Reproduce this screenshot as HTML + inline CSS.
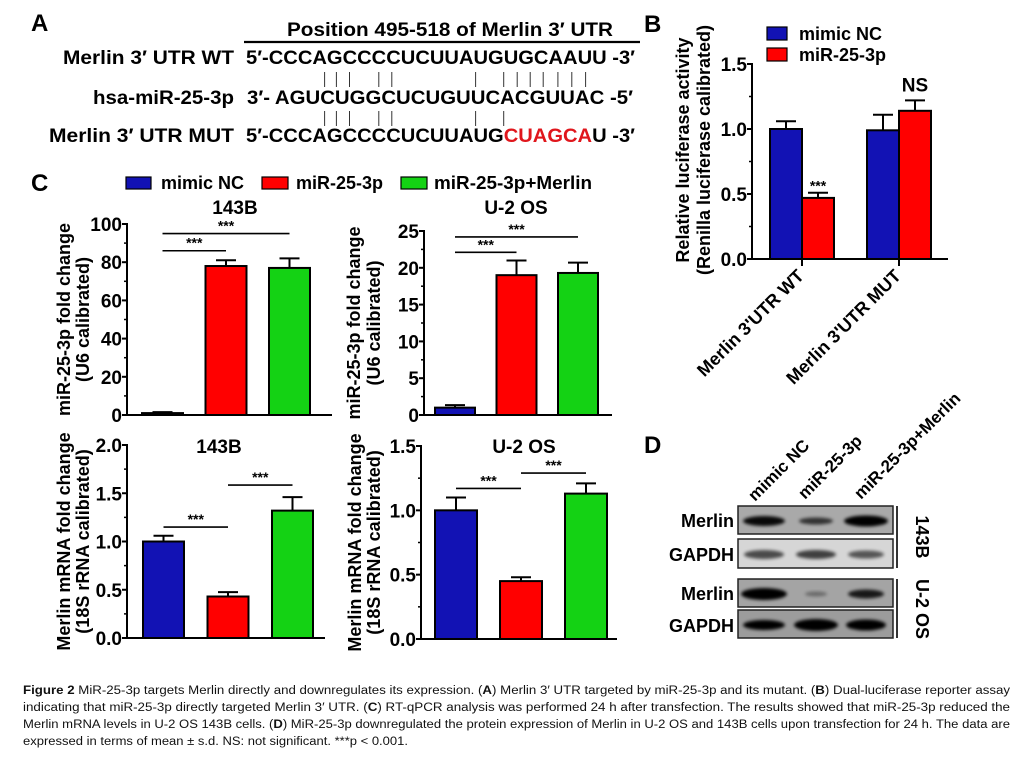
<!DOCTYPE html>
<html><head><meta charset="utf-8">
<style>
html,body{margin:0;padding:0;background:#fff;}
svg{display:block;font-family:"Liberation Sans",Arial,sans-serif;}
.b{font-weight:bold;}
</style></head>
<body>
<svg id="fig" width="1033" height="776" viewBox="0 0 1033 776" xmlns="http://www.w3.org/2000/svg">
<defs><filter id="blur" x="-20%" y="-50%" width="140%" height="200%"><feGaussianBlur stdDeviation="1.6"/></filter></defs>

<!-- Panel A -->
<g class="b" font-size="19">
  <text x="31" y="31" font-size="24">A</text>
  <text x="287" y="36" textLength="326" lengthAdjust="spacingAndGlyphs">Position 495-518 of Merlin 3′ UTR</text>
  <line x1="244" y1="42" x2="640" y2="42" stroke="#000" stroke-width="2.2"/>
  <text x="63" y="64" textLength="171" lengthAdjust="spacingAndGlyphs">Merlin 3′ UTR WT</text>
  <text x="246" y="64" textLength="389" lengthAdjust="spacingAndGlyphs">5′-CCCAGCCCCUCUUAUGUGCAAUU -3′</text>
  <text x="93" y="104" textLength="141" lengthAdjust="spacingAndGlyphs">hsa-miR-25-3p</text>
  <text x="247" y="104" textLength="386" lengthAdjust="spacingAndGlyphs">3′- AGUCUGGCUCUGUUCACGUUAC -5′</text>
  <text x="49" y="142" textLength="185" lengthAdjust="spacingAndGlyphs">Merlin 3′ UTR MUT</text>
  <text x="246" y="142" textLength="389" lengthAdjust="spacingAndGlyphs">5′-CCCAGCCCCUCUUAUG<tspan fill="#e0161c">CUAGCA</tspan>U -3′</text>
  <g id="pairs" stroke="#333" stroke-width="1"></g>
</g>

<!-- Panel B -->
<g id="panelB" class="b">
  <text x="644" y="32" font-size="24">B</text>
  <rect x="767" y="27" width="20" height="13" fill="#1212b4" stroke="#000" stroke-width="1.2"/>
  <text x="799" y="40" font-size="18">mimic NC</text>
  <rect x="767" y="48" width="20" height="13" fill="#ff0000" stroke="#000" stroke-width="1.2"/>
  <text x="799" y="61" font-size="18">miR-25-3p</text>
  <text transform="translate(689,150) rotate(-90)" text-anchor="middle" font-size="18">Relative luciferase activity</text>
  <text transform="translate(710,150) rotate(-90)" text-anchor="middle" font-size="18">(Renilla luciferase calibrated)</text>
</g>

<!-- Panel C -->
<g class="b">
  <text x="31" y="191" font-size="24">C</text>
  <rect x="126" y="177" width="25" height="12" fill="#1212b4" stroke="#000" stroke-width="1.2"/>
  <text x="161" y="189" font-size="18">mimic NC</text>
  <rect x="262" y="177" width="26" height="12" fill="#ff0000" stroke="#000" stroke-width="1.2"/>
  <text x="296" y="189" font-size="18">miR-25-3p</text>
  <rect x="401" y="177" width="26" height="12" fill="#14d214" stroke="#000" stroke-width="1.2"/>
  <text x="434" y="189" font-size="18" textLength="158" lengthAdjust="spacingAndGlyphs">miR-25-3p+Merlin</text>
</g>
<g id="charts"></g>

<!-- Panel D -->
<g id="panelD" class="b">
  <text x="644" y="453" font-size="24">D</text>
  <text transform="translate(755,502) rotate(-45)" font-size="17">mimic NC</text>
  <text transform="translate(805,500) rotate(-45)" font-size="17">miR-25-3p</text>
  <text transform="translate(861,500) rotate(-45)" font-size="17">miR-25-3p+Merlin</text>
  <text x="734" y="527" font-size="18" text-anchor="end">Merlin</text>
  <text x="734" y="561" font-size="18" text-anchor="end">GAPDH</text>
  <text x="734" y="600" font-size="18" text-anchor="end">Merlin</text>
  <text x="734" y="632" font-size="18" text-anchor="end">GAPDH</text>
  <line x1="897" y1="506" x2="897" y2="568" stroke="#000" stroke-width="1.6"/>
  <line x1="897" y1="579" x2="897" y2="638" stroke="#000" stroke-width="1.6"/>
  <text transform="translate(916,537) rotate(90)" text-anchor="middle" font-size="18">143B</text>
  <text transform="translate(916,609) rotate(90)" text-anchor="middle" font-size="18">U-2 OS</text>
  <g id="blots"></g>
</g>

<!-- Caption -->
<g font-size="11.5" fill="#111">
  <text x="23" y="694" textLength="987" lengthAdjust="spacingAndGlyphs"><tspan font-weight="bold">Figure 2</tspan> MiR-25-3p targets Merlin directly and downregulates its expression. (<tspan font-weight="bold">A</tspan>) Merlin 3′ UTR targeted by miR-25-3p and its mutant. (<tspan font-weight="bold">B</tspan>) Dual-luciferase reporter assay</text>
  <text x="23" y="711" textLength="987" lengthAdjust="spacingAndGlyphs">indicating that miR-25-3p directly targeted Merlin 3′ UTR. (<tspan font-weight="bold">C</tspan>) RT-qPCR analysis was performed 24 h after transfection. The results showed that miR-25-3p reduced the</text>
  <text x="23" y="728" textLength="987" lengthAdjust="spacingAndGlyphs">Merlin mRNA levels in U-2 OS 143B cells. (<tspan font-weight="bold">D</tspan>) MiR-25-3p downregulated the protein expression of Merlin in U-2 OS and 143B cells upon transfection for 24 h. The data are</text>
  <text x="23" y="745" textLength="385" lengthAdjust="spacingAndGlyphs">expressed in terms of mean ± s.d. NS: not significant. ***p &lt; 0.001.</text>
</g>
</svg>

<script>
// ===== Data =====
const cGroups = ['mimic NC', 'miR-25-3p', 'miR-25-3p+Merlin'];
const c1Values = [1, 78, 77];
const c1Err = [0.5, 3, 5];
const c1Ticks = [0, 20, 40, 60, 80, 100];
const c1Sig = [[0, 1, 86], [0, 2, 95]];
const c2Values = [1, 19, 19.3];
const c2Err = [0.35, 2, 1.4];
const c2Ticks = [0, 5, 10, 15, 20, 25];
const c2Sig = [[0, 1, 22.1], [0, 2, 24.2]];
const c3Values = [1.0, 0.43, 1.32];
const c3Err = [0.06, 0.045, 0.14];
const c3Ticks = [0, 0.5, 1.0, 1.5, 2.0];
const c3Sig = [[0, 1, 1.15], [1, 2, 1.585]];
const c4Values = [1.0, 0.45, 1.13];
const c4Err = [0.10, 0.03, 0.08];
const c4Ticks = [0, 0.5, 1.0, 1.5];
const c4Sig = [[0, 1, 1.17], [1, 2, 1.29]];
const bCategories = ["Merlin 3'UTR WT", "Merlin 3'UTR MUT"];
const bMimic = [1.0, 0.99];
const bMimicErr = [0.06, 0.12];
const bMir = [0.47, 1.14];
const bMirErr = [0.04, 0.08];
const bTicks = [0, 0.5, 1.0, 1.5];
const bSigLabels = ['***', 'NS'];
const pairTop = [324.6,336.4,349.5,378.8,391.8,475.6,503.7,517.2,530.2,543.2,557.9,571.8,585.6];
const pairBottomCount = 7;

const NS = 'http://www.w3.org/2000/svg';
const colors = ['#1212b4', '#ff0000', '#14d214'];
function mk(tag, attrs, parent) {
  const e = document.createElementNS(NS, tag);
  for (const k in attrs) e.setAttribute(k, attrs[k]);
  parent.appendChild(e);
  return e;
}

const pairs = document.getElementById('pairs');
pairTop.forEach((x, i) => {
  const l = mk('line', {x1: x, x2: x, y1: 72, y2: 87}, pairs);
  
  
  if (i < pairBottomCount) {
    const l2 = mk('line', {x1: x, x2: x, y1: 111, y2: 126}, pairs);
    
    
  }
});

const charts = document.getElementById('charts');

function axisY(g, ax, y0, yTop, max, ticks, minorStep, decimals, axEnd) {
  const sy = v => y0 - (v / max) * (y0 - yTop);
  const yl = mk('line', {x1: ax, x2: ax, y1: yTop - 1, y2: y0, stroke: '#000', 'stroke-width': 2}, g);
  
  
  const xl = mk('line', {x1: ax - 1, x2: axEnd, y1: y0, y2: y0, stroke: '#000', 'stroke-width': 2}, g);
  
  
  for (let v = 0; v <= max + 1e-9; v += minorStep) {
    mk('line', {x1: ax - 3, x2: ax, y1: sy(v), y2: sy(v), stroke: '#000', 'stroke-width': 1.5}, g);
  }
  ticks.forEach(t => {
    mk('line', {x1: ax - 5, x2: ax, y1: sy(t), y2: sy(t), stroke: '#000', 'stroke-width': 2}, g);
    const tx = mk('text', {x: ax - 5, y: sy(t) + 7, 'text-anchor': 'end', 'font-size': 19, 'font-weight': 'bold'}, g);
    
    
    tx.textContent = t.toFixed(decimals);
  });
  return sy;
}

function bar(g, x, w, v, e, sy, color, name) {
  const top = sy(v), et = sy(v + e), cx = x + w / 2;
  const el = mk('line', {x1: cx, x2: cx, y1: top, y2: et, stroke: '#000', 'stroke-width': 2}, g);
  
  
  mk('line', {x1: cx - 10, x2: cx + 10, y1: et, y2: et, stroke: '#000', 'stroke-width': 2}, g);
  const r = mk('rect', {x: x, y: top, width: w, height: sy(0) - top, fill: color, stroke: '#000', 'stroke-width': 2}, g);
  
  
}

function cPanel(cfg) {
  const g = mk('g', {}, charts);
  
  
  const sy = axisY(g, cfg.ax, cfg.y0, cfg.yTop, cfg.max, cfg.ticks, cfg.minor, cfg.dec, cfg.axEnd);
  const cx = i => cfg.bx0 + i * cfg.step + cfg.w / 2;
  cfg.values.forEach((v, i) => bar(g, cx(i) - cfg.w / 2, cfg.w, v, cfg.err[i], sy, colors[i], 'bar-' + cGroups[i].replace(/[^a-z0-9]+/gi, '-').toLowerCase()));
  cfg.sig.forEach(s => {
    const y = sy(s[2]);
    const l = mk('line', {x1: cx(s[0]), x2: cx(s[1]), y1: y, y2: y, stroke: '#000', 'stroke-width': 1.6}, g);
    
    
    const t = mk('text', {x: (cx(s[0]) + cx(s[1])) / 2, y: y - 3, 'text-anchor': 'middle', 'font-size': 14, 'font-weight': 'bold'}, g);
    
    
    t.textContent = '***';
  });
  const ti = mk('text', {x: cfg.titleX, y: cfg.titleY, 'text-anchor': 'middle', 'font-size': 19, 'font-weight': 'bold'}, g);
  
  
  ti.textContent = cfg.title;
  const yc = (cfg.y0 + cfg.yTop) / 2;
  cfg.ytitle.forEach((s, k) => {
    const t = mk('text', {transform: 'translate(' + cfg.ytx[k] + ',' + yc + ') rotate(-90)', 'text-anchor': 'middle', 'font-size': 18, 'font-weight': 'bold'}, g);
    
    
    t.textContent = s;
  });
}

cPanel({name: 'chart-c-143b-mirna', ax: 127, y0: 415, yTop: 224, max: 100, ticks: c1Ticks, minor: 10, dec: 0, axEnd: 332,
  bx0: 142, step: 63.5, w: 41, values: c1Values, err: c1Err, sig: c1Sig, title: '143B', titleX: 235, titleY: 214,
  ytitle: ['miR-25-3p fold change', '(U6 calibrated)'], ytx: [70, 89]});
cPanel({name: 'chart-c-u2os-mirna', ax: 424, y0: 415, yTop: 231, max: 25, ticks: c2Ticks, minor: 2.5, dec: 0, axEnd: 612,
  bx0: 435, step: 61.5, w: 40, values: c2Values, err: c2Err, sig: c2Sig, title: 'U-2 OS', titleX: 516, titleY: 214,
  ytitle: ['miR-25-3p fold change', '(U6 calibrated)'], ytx: [360, 380]});
cPanel({name: 'chart-c-143b-merlin', ax: 127, y0: 638, yTop: 445, max: 2, ticks: c3Ticks, minor: 0.25, dec: 1, axEnd: 325,
  bx0: 143, step: 64.5, w: 41, values: c3Values, err: c3Err, sig: c3Sig, title: '143B', titleX: 219, titleY: 453,
  ytitle: ['Merlin mRNA fold change', '(18S rRNA calibrated)'], ytx: [70, 89]});
cPanel({name: 'chart-c-u2os-merlin', ax: 421, y0: 639, yTop: 446, max: 1.5, ticks: c4Ticks, minor: 0.25, dec: 1, axEnd: 617,
  bx0: 435, step: 65, w: 42, values: c4Values, err: c4Err, sig: c4Sig, title: 'U-2 OS', titleX: 524, titleY: 453,
  ytitle: ['Merlin mRNA fold change', '(18S rRNA calibrated)'], ytx: [361, 380]});

// Panel B
(function () {
  const g = document.getElementById('panelB');
  const ax = 752, y0 = 259, yTop = 64;
  const sy = axisY(g, ax, y0, yTop, 1.5, bTicks, 0.25, 1, 948);
  const groupX = i => 770 + i * 97;
  bCategories.forEach((c, i) => {
    const x = groupX(i);
    bar(g, x, 32, bMimic[i], bMimicErr[i], sy, colors[0], 'bar-mimic-nc-' + i);
    bar(g, x + 32, 32, bMir[i], bMirErr[i], sy, colors[1], 'bar-mir-25-3p-' + i);
    mk('line', {x1: x + 32, x2: x + 32, y1: y0, y2: y0 + 7, stroke: '#000', 'stroke-width': 2}, g);
    const t = mk('text', {transform: 'translate(' + (x + 35) + ',' + (y0 + 18) + ') rotate(-45)', 'text-anchor': 'end', 'font-size': 18, 'font-weight': 'bold'}, g);
    
    
    t.textContent = c;
    const s = mk('text', {x: x + 48, y: sy(bMir[i] + bMirErr[i]) - (bSigLabels[i] === 'NS' ? 9 : 2), 'text-anchor': 'middle', 'font-size': bSigLabels[i] === 'NS' ? 19 : 14, 'font-weight': 'bold'}, g);
    
    
    s.textContent = bSigLabels[i];
  });
})();

// Panel D blots
(function () {
  const g = document.getElementById('blots');
  const rows = [
    {y: 506, h: 28, bg: '#a9a9a9', bands: [[42, 8, 0.95], [34, 5, 0.7], [44, 9, 1]]},
    {y: 539, h: 29, bg: '#d6d6d6', bands: [[40, 7, 0.65], [40, 7, 0.7], [36, 6, 0.6]]},
    {y: 579, h: 28, bg: '#a4a4a4', bands: [[46, 10, 1], [22, 3, 0.35], [36, 7, 0.85]]},
    {y: 610, h: 28, bg: '#9c9c9c', bands: [[42, 8, 1], [44, 10, 1], [40, 9, 1]]}
  ];
  const lanes = [764, 816, 866];
  rows.forEach((r, ri) => {
    const rect = mk('rect', {x: 738, y: r.y, width: 155, height: r.h, fill: r.bg, stroke: '#222', 'stroke-width': 1.5}, g);
    
    
    r.bands.forEach((b, bi) => {
      const e = mk('ellipse', {cx: lanes[bi], cy: r.y + r.h / 2 + 1, rx: b[0] / 2, ry: b[1] / 2 + 1, fill: '#000', opacity: b[2], filter: 'url(#blur)'}, g);
      
      
    });
  });
})();
</script>
</body></html>
